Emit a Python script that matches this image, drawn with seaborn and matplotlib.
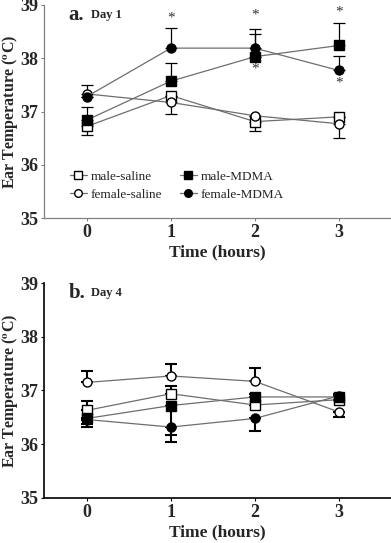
import numpy as np
import pandas as pd
import matplotlib
matplotlib.use("Agg")
import matplotlib.pyplot as plt
import seaborn as sns
from matplotlib.lines import Line2D

sns.set_style("ticks")
plt.rcParams['font.family'] = ['Liberation Serif', 'DejaVu Serif']
plt.rcParams['mathtext.fontset'] = 'stix'

# time points (hours)
hours = [0, 1, 2, 3]
groups = ["male-saline", "female-saline", "male-MDMA", "female-MDMA"]

# Day 1 means and one-sided SEM (up / down)
d1_male_saline = [36.72, 37.30, 36.81, 36.90]
d1_female_saline = [37.33, 37.17, 36.92, 36.77]
d1_male_mdma = [36.84, 37.57, 38.03, 38.24]
d1_female_mdma = [37.28, 38.19, 38.19, 37.77]
d1_up = {"male-saline": [0, 0, 0, 0], "female-saline": [0.16, 0, 0, 0],
         "male-MDMA": [0.25, 0.35, 0.42, 0.42], "female-MDMA": [0, 0.37, 0.35, 0.28]}
d1_down = {"male-saline": [0.16, 0, 0.17, 0], "female-saline": [0, 0.22, 0, 0.26],
           "male-MDMA": [0, 0, 0, 0], "female-MDMA": [0, 0, 0, 0]}
# significance stars (hour, height)
stars_x = [1, 2, 2, 3, 3]
stars_y = [38.76, 38.81, 37.80, 38.87, 37.53]

# Day 4
d4_male_saline = [36.63, 36.94, 36.73, 36.83]
d4_female_saline = [37.15, 37.27, 37.17, 36.60]
d4_male_mdma = [36.48, 36.72, 36.88, 36.88]
d4_female_mdma = [36.46, 36.32, 36.48, 36.90]
d4_up = {"male-saline": [0.17, 0.15, 0, 0], "female-saline": [0.22, 0.23, 0.25, 0],
         "male-MDMA": [0, 0, 0.05, 0.05], "female-MDMA": [0, 0, 0, 0]}
d4_down = {"male-saline": [0, 0, 0, 0], "female-saline": [0, 0, 0, 0.09],
           "male-MDMA": [0.11, 0.55, 0, 0], "female-MDMA": [0.13, 0.28, 0.24, 0]}

markers = {"male-saline": "s", "female-saline": "o", "male-MDMA": "s", "female-MDMA": "o"}
faces = {"male-saline": "white", "female-saline": "white", "male-MDMA": "black", "female-MDMA": "black"}


def make_df(ms, fs, mm, fm):
    rows = []
    for g, vals in zip(groups, [ms, fs, mm, fm]):
        for h, v in zip(hours, vals):
            rows.append({"Time": h, "Temp": v, "group": g})
    return pd.DataFrame(rows)


def panel(ax, df, up, down, spine_col, lw_err, letter, day):
    for g in groups:
        sub = df[df["group"] == g]
        ax.errorbar(sub["Time"], sub["Temp"], yerr=[down[g], up[g]], fmt="none",
                    ecolor="black", elinewidth=lw_err, capsize=4.5, capthick=lw_err, zorder=2)
        sns.lineplot(data=sub, x="Time", y="Temp", ax=ax, color="#6e6e6e", lw=0.9,
                     marker=markers[g], markersize=6.5, markerfacecolor=faces[g],
                     markeredgecolor="black", markeredgewidth=1.0, zorder=3)
    ax.set_xlim(-0.51, 3.62)
    ax.set_ylim(35, 39)
    ax.set_xticks(hours)
    ax.set_yticks([35, 36, 37, 38, 39])
    ax.tick_params(labelsize=13, length=2.5, width=0.8, color=spine_col, pad=1.5)
    for lab in ax.get_xticklabels() + ax.get_yticklabels():
        lab.set_fontweight("bold")
    sns.despine(ax=ax)
    for s in ["left", "bottom"]:
        ax.spines[s].set_color(spine_col)
        ax.spines[s].set_linewidth(0.9 if spine_col != "black" else 1.2)
    ax.set_xlabel("Time (hours)", fontsize=12.5, fontweight="bold", labelpad=2.5)
    ax.set_ylabel(r"Ear Temperature ($^{\mathbf{o}}$C)", fontsize=11.5, fontweight="bold")
    ax.yaxis.set_label_coords(-0.068, 0.5)
    ax.text(0.07, 0.955, letter, transform=ax.transAxes, fontsize=15, fontweight="bold", va="center")
    ax.text(0.135, 0.955, day, transform=ax.transAxes, fontsize=9, fontweight="bold", va="center")


fig = plt.figure(figsize=(3.91, 5.43), dpi=100)
ax1 = fig.add_axes([0.1125, 0.5985, 0.8875, 0.3923])
ax2 = fig.add_axes([0.1125, 0.0829, 0.8875, 0.3959])

df1 = make_df(d1_male_saline, d1_female_saline, d1_male_mdma, d1_female_mdma)
df4 = make_df(d4_male_saline, d4_female_saline, d4_male_mdma, d4_female_mdma)

panel(ax1, df1, d1_up, d1_down, "#808080", 0.9, "a.", "Day 1")
panel(ax2, df4, d4_up, d4_down, "black", 1.5, "b.", "Day 4")

for x, y in zip(stars_x, stars_y):
    ax1.text(x, y, "*", ha="center", va="center", fontsize=11, color="#333333")

handles = [Line2D([], [], color="#6e6e6e", lw=0.9, marker=markers[g], markersize=5.5,
                  markerfacecolor=faces[g], markeredgecolor="black") for g in groups]
leg = ax1.legend(handles, groups, ncol=2, frameon=False, loc="lower left",
                 bbox_to_anchor=(0.04, 0.025), fontsize=9.5, handlelength=1.3,
                 handletextpad=0.3, columnspacing=1.3, labelspacing=0.45)

fig.savefig("out.png", dpi=100)
